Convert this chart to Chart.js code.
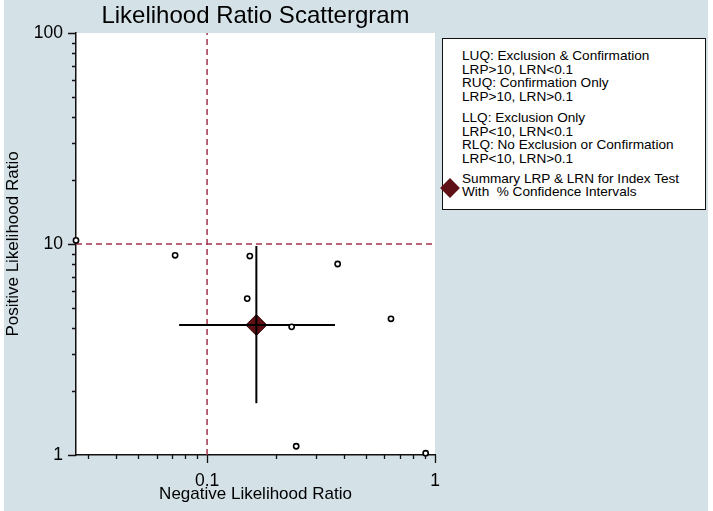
<!DOCTYPE html>
<html>
<head>
<meta charset="utf-8">
<script src="https://cdn.jsdelivr.net/npm/chart.js@4.4.1/dist/chart.umd.min.js"></script>
<style>
    html, body { margin: 0; padding: 0; background: #ffffff; }
    #wrap { position: relative; width: 713px; height: 511px; font-family: "Liberation Sans", Arial, sans-serif; }
    #lr-chart { position: absolute; left: 0; top: 0; }
    #legend-box {
        position: absolute; left: 442px; top: 38px; width: 264px; height: 172px;
        box-sizing: border-box; border: 1px solid #111; background: #fff;
        padding: 10px 0 0 19px; font-size: 13.6px; line-height: 13.7px; color: #000;
    }
    #legend-box .grp { margin-bottom: 7px; }
    #legend-box .grp.last { position: relative; margin-top: -1px; }
    #legend-box .diamond {
        position: absolute; left: -19px; top: 9px; width: 14px; height: 14px;
        background: #5e1014; transform: rotate(45deg);
    }
</style>
</head>
<body>
<div id="wrap">
    <canvas id="lr-chart" width="713" height="511"></canvas>
    <div id="legend-box">
        <div class="grp">LUQ: Exclusion &amp; Confirmation<br>LRP&gt;10, LRN&lt;0.1<br>RUQ: Confirmation Only<br>LRP&gt;10, LRN&gt;0.1</div>
        <div class="grp">LLQ: Exclusion Only<br>LRP&lt;10, LRN&lt;0.1<br>RLQ: No Exclusion or Confirmation<br>LRP&lt;10, LRN&gt;0.1</div>
        <div class="grp last"><span class="diamond"></span>Summary LRP &amp; LRN for Index Test<br>With&nbsp; % Confidence Intervals</div>
    </div>
</div>
<script>
// study estimates (negative LR on x, positive LR on y)
const studyLRN = [0.0266, 0.0724, 0.154, 0.150, 0.235, 0.374, 0.641, 0.246, 0.910];
const studyLRP = [10.4, 8.84, 8.77, 5.51, 4.05, 8.04, 4.42, 1.10, 1.02];

// summary point and its confidence intervals
const summaryLRN = 0.1645;
const summaryLRP = 4.13;
const summaryLRNci = [0.0754, 0.364];
const summaryLRPci = [1.76, 9.78];

// quadrant cut-offs
const cutLRN = 0.1;
const cutLRP = 10;

// axes
const xRange = [0.0266, 1];
const yRange = [1, 100];
const xMajorTicks = [0.1, 1];
const xTickLabels = ['0.1', '1'];
const xMinorTicks = [0.03, 0.04, 0.05, 0.06, 0.07, 0.08, 0.09, 0.2, 0.3, 0.4, 0.5, 0.6, 0.7, 0.8, 0.9];
const yMajorTicks = [1, 10, 100];
const yTickLabels = ['1', '10', '100'];
const yMinorTicks = [2, 3, 4, 5, 6, 7, 8, 9, 20, 30, 40, 50, 60, 70, 80, 90];

const FONT = '"Liberation Sans", Arial, sans-serif';
const BG = '#d4e1e7';
const CUT_COLOR = '#a3344f';

/**
 * Paints the grey-blue frame and the white plot region.
 */
const backdropPlugin = {
    id: 'backdrop',
    beforeDraw(chart) {
        const { ctx, chartArea: a } = chart;
        ctx.save();
        ctx.fillStyle = BG;
        ctx.fillRect(4, 0, 704, chart.height);
        ctx.fillStyle = '#ffffff';
        ctx.fillRect(a.left, a.top, a.right - a.left, a.bottom - a.top);
        ctx.restore();
    }
};

/**
 * Draws major and minor tick marks outside the axes.
 */
const tickMarkPlugin = {
    id: 'tickMarks',
    afterDraw(chart) {
        const { ctx, chartArea: a, scales } = chart;
        ctx.save();
        ctx.strokeStyle = '#111';
        ctx.lineWidth = 1.3;
        ctx.beginPath();
        const xTick = (v, len) => {
            const px = Math.round(scales.x.getPixelForValue(v)) + 0.5;
            ctx.moveTo(px, a.bottom);
            ctx.lineTo(px, a.bottom + len);
        };
        const yTick = (v, len) => {
            const py = Math.round(scales.y.getPixelForValue(v)) + 0.5;
            ctx.moveTo(a.left, py);
            ctx.lineTo(a.left - len, py);
        };
        xMinorTicks.forEach(v => xTick(v, 4));
        xMajorTicks.forEach(v => xTick(v, 8));
        yMinorTicks.forEach(v => yTick(v, 4));
        yMajorTicks.forEach(v => yTick(v, 8));
        ctx.stroke();
        ctx.restore();
    }
};

const studyPoints = studyLRN.map((x, i) => ({ x, y: studyLRP[i] }));

const datasets = [
    {
        label: 'Studies', data: studyPoints, clip: false,
        pointRadius: 2.6, pointBackgroundColor: '#ffffff',
        pointBorderColor: '#000000', pointBorderWidth: 1.6, showLine: false
    },
    {
        label: 'LRN CI', data: [{ x: summaryLRNci[0], y: summaryLRP }, { x: summaryLRNci[1], y: summaryLRP }],
        showLine: true, borderColor: '#000', borderWidth: 2, pointRadius: 0
    },
    {
        label: 'LRP CI', data: [{ x: summaryLRN, y: summaryLRPci[0] }, { x: summaryLRN, y: summaryLRPci[1] }],
        showLine: true, borderColor: '#000', borderWidth: 2, pointRadius: 0
    },
    {
        label: 'Summary', data: [{ x: summaryLRN, y: summaryLRP }],
        pointStyle: 'rectRot', pointRadius: 10.5, pointBackgroundColor: '#5e1014',
        pointBorderColor: '#3d0a0c', pointBorderWidth: 1, showLine: false
    },
    {
        label: 'LRN cut', data: [{ x: cutLRN, y: yRange[0] }, { x: cutLRN, y: yRange[1] }],
        showLine: true, borderColor: CUT_COLOR, borderWidth: 1.5, borderDash: [6, 4], pointRadius: 0
    },
    {
        label: 'LRP cut', data: [{ x: xRange[0], y: cutLRP }, { x: xRange[1], y: cutLRP }],
        showLine: true, borderColor: CUT_COLOR, borderWidth: 1.5, borderDash: [6, 4], pointRadius: 0
    }
];

new Chart(document.getElementById('lr-chart'), {
    type: 'scatter',
    data: { datasets },
    options: {
        responsive: false,
        animation: false,
        events: [],
        layout: { padding: { left: 0, top: 0, right: 278, bottom: 0 } },
        plugins: {
            legend: { display: false },
            tooltip: { enabled: false },
            title: {
                display: true, fullSize: false,
                text: 'Likelihood Ratio Scattergram',
                color: '#000',
                font: { family: FONT, size: 24, weight: 'normal', lineHeight: 1.2 },
                padding: { top: 2, bottom: 2.2 }
            }
        },
        scales: {
            x: {
                type: 'logarithmic', min: xRange[0], max: xRange[1],
                afterFit(scale) { scale.height = 56; },
                afterBuildTicks(scale) { scale.ticks = xMajorTicks.map(v => ({ value: v })); },
                grid: { display: false, drawTicks: false },
                border: { display: true, color: '#111', width: 1.5 },
                ticks: {
                    autoSkip: false, maxRotation: 0, padding: 16, color: '#000',
                    font: { family: FONT, size: 17.5 },
                    callback: v => xTickLabels[xMajorTicks.indexOf(v)] ?? ''
                },
                title: {
                    display: true, text: 'Negative Likelihood Ratio', color: '#000',
                    font: { family: FONT, size: 17 }, padding: { top: 0, bottom: 6 }
                }
            },
            y: {
                type: 'logarithmic', min: yRange[0], max: yRange[1],
                afterFit(scale) { scale.width = 76; },
                afterBuildTicks(scale) { scale.ticks = yMajorTicks.map(v => ({ value: v })); },
                grid: { display: false, drawTicks: false },
                border: { display: true, color: '#111', width: 1.5 },
                ticks: {
                    autoSkip: false, padding: 13, color: '#000',
                    font: { family: FONT, size: 17.5 },
                    callback: v => yTickLabels[yMajorTicks.indexOf(v)] ?? ''
                },
                title: {
                    display: true, text: 'Positive Likelihood Ratio', color: '#000',
                    font: { family: FONT, size: 17 }, padding: { top: 3, bottom: 0 }
                }
            }
        }
    },
    plugins: [backdropPlugin, tickMarkPlugin]
});
</script>
</body>
</html>
